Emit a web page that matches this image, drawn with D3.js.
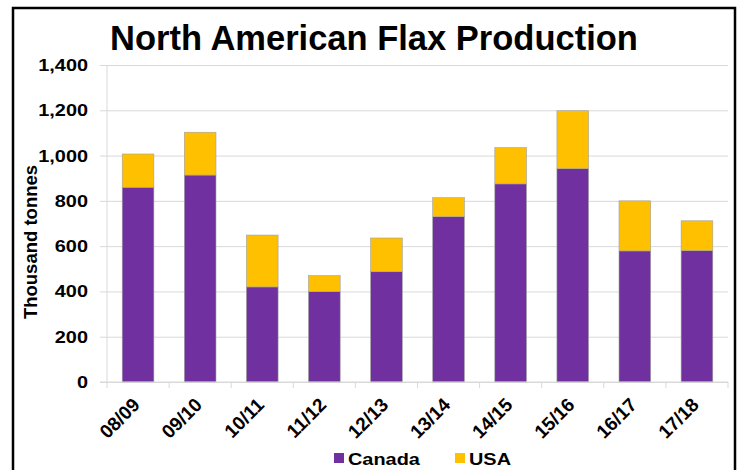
<!DOCTYPE html>
<html>
<head>
<meta charset="utf-8">
<script src="https://cdn.jsdelivr.net/npm/d3@7/dist/d3.min.js"></script>
<style>
  html, body { margin: 0; padding: 0; background: #fff; }
  svg { display: block; }
  text { font-family: "Liberation Sans", Arial, sans-serif; font-weight: bold; fill: #000; }
</style>
</head>
<body>
<div id="chart"></div>
<script>
const categories = ["08/09","09/10","10/11","11/12","12/13","13/14","14/15","15/16","16/17","17/18"];
const canada = [860, 914, 420, 399, 487, 730, 875, 942, 579, 580];
const usa    = [147, 189, 229,  71, 149,  84, 160, 256, 221, 132];
const seriesNames = ["Canada", "USA"];
const seriesColors = ["#7030A0", "#FFC000"];
const yTicks = [0, 200, 400, 600, 800, 1000, 1200, 1400];
const title = "North American Flax Production";
const yTitle = "Thousand tonnes";

const W = 741, H = 470;
const SX = 1.17; // horizontal stretch of small labels seen in the reference
const svg = d3.select("#chart").append("svg").attr("width", W).attr("height", H);

// frame
svg.append("rect").attr("x", 13).attr("y", 8).attr("width", 722).attr("height", 520)
  .attr("fill", "none").attr("stroke", "#000").attr("stroke-width", 2.5);

const plot = { left: 107, right: 728, top: 65, bottom: 382 };

const x = d3.scaleBand().domain(categories).range([plot.left, plot.right])
  .paddingInner(0.49).paddingOuter(0.245);
const y = d3.scaleLinear().domain([0, 1400]).range([plot.bottom, plot.top]);

// gridlines + y axis
const yAxis = d3.axisLeft(y).tickValues(yTicks)
  .tickSize(-(plot.right - plot.left)).tickPadding(12)
  .tickFormat(d3.format(","));
const gy = svg.append("g").attr("transform", `translate(${plot.left},0)`).call(yAxis);
gy.select(".domain").remove();
gy.selectAll(".tick line").attr("stroke", "#d9d9d9").attr("x1", -7);
gy.selectAll(".tick text").style("font-size", "17px")
  .attr("x", -19 / SX).attr("transform", `scale(${SX},1)`);

// left axis line
svg.append("line").attr("x1", plot.left).attr("x2", plot.left)
  .attr("y1", plot.top).attr("y2", plot.bottom).attr("stroke", "#d9d9d9");

// stacked data
const stackData = categories.map((c, i) => ({ cat: c, Canada: canada[i], USA: usa[i] }));
const stack = d3.stack().keys(seriesNames)(stackData);

svg.append("g").selectAll("g").data(stack).join("g")
  .attr("fill", (d, i) => seriesColors[i])
  .selectAll("rect").data(d => d).join("rect")
  .attr("x", d => x(d.data.cat))
  .attr("width", x.bandwidth())
  .attr("y", d => y(d[1]))
  .attr("height", d => y(d[0]) - y(d[1]))
  .attr("stroke", "#a0a0a0").attr("stroke-width", 0.6);

// x axis baseline with ticks at category boundaries
const gx = svg.append("g").attr("transform", `translate(0,${plot.bottom})`);
gx.append("line").attr("x1", plot.left - 7).attr("x2", plot.right).attr("y1", 0).attr("y2", 0)
  .attr("stroke", "#d9d9d9");
const bounds = d3.range(categories.length + 1).map(i => plot.left + i * (plot.right - plot.left) / categories.length);
gx.selectAll("line.tk").data(bounds).join("line").attr("class", "tk")
  .attr("x1", d => d).attr("x2", d => d).attr("y1", 0).attr("y2", 6).attr("stroke", "#d9d9d9");

gx.selectAll("text.xl").data(categories).join("text").attr("class", "xl")
  .attr("text-anchor", "end")
  .style("font-size", "19px")
  .attr("transform", d => `translate(${x(d) + x.bandwidth() / 2 + 3},${24}) rotate(-45)`)
  .text(d => d);

// title
svg.append("text").attr("x", 374).attr("y", 50).attr("text-anchor", "middle")
  .style("font-size", "34.5px").text(title);

// y title
svg.append("text").attr("text-anchor", "middle")
  .attr("transform", `translate(37,${242}) rotate(-90)`)
  .style("font-size", "18.5px").text(yTitle);

// legend
const legX = [334, 455];
const lg = svg.append("g").selectAll("g").data(seriesNames).join("g")
  .attr("transform", (d, i) => `translate(${legX[i]},453)`);
lg.append("rect").attr("width", 10).attr("height", 10).attr("fill", (d, i) => seriesColors[i]);
lg.append("text").attr("transform", `translate(14,12) scale(${SX},1)`)
  .style("font-size", "17px").text(d => d);
</script>
</body>
</html>
